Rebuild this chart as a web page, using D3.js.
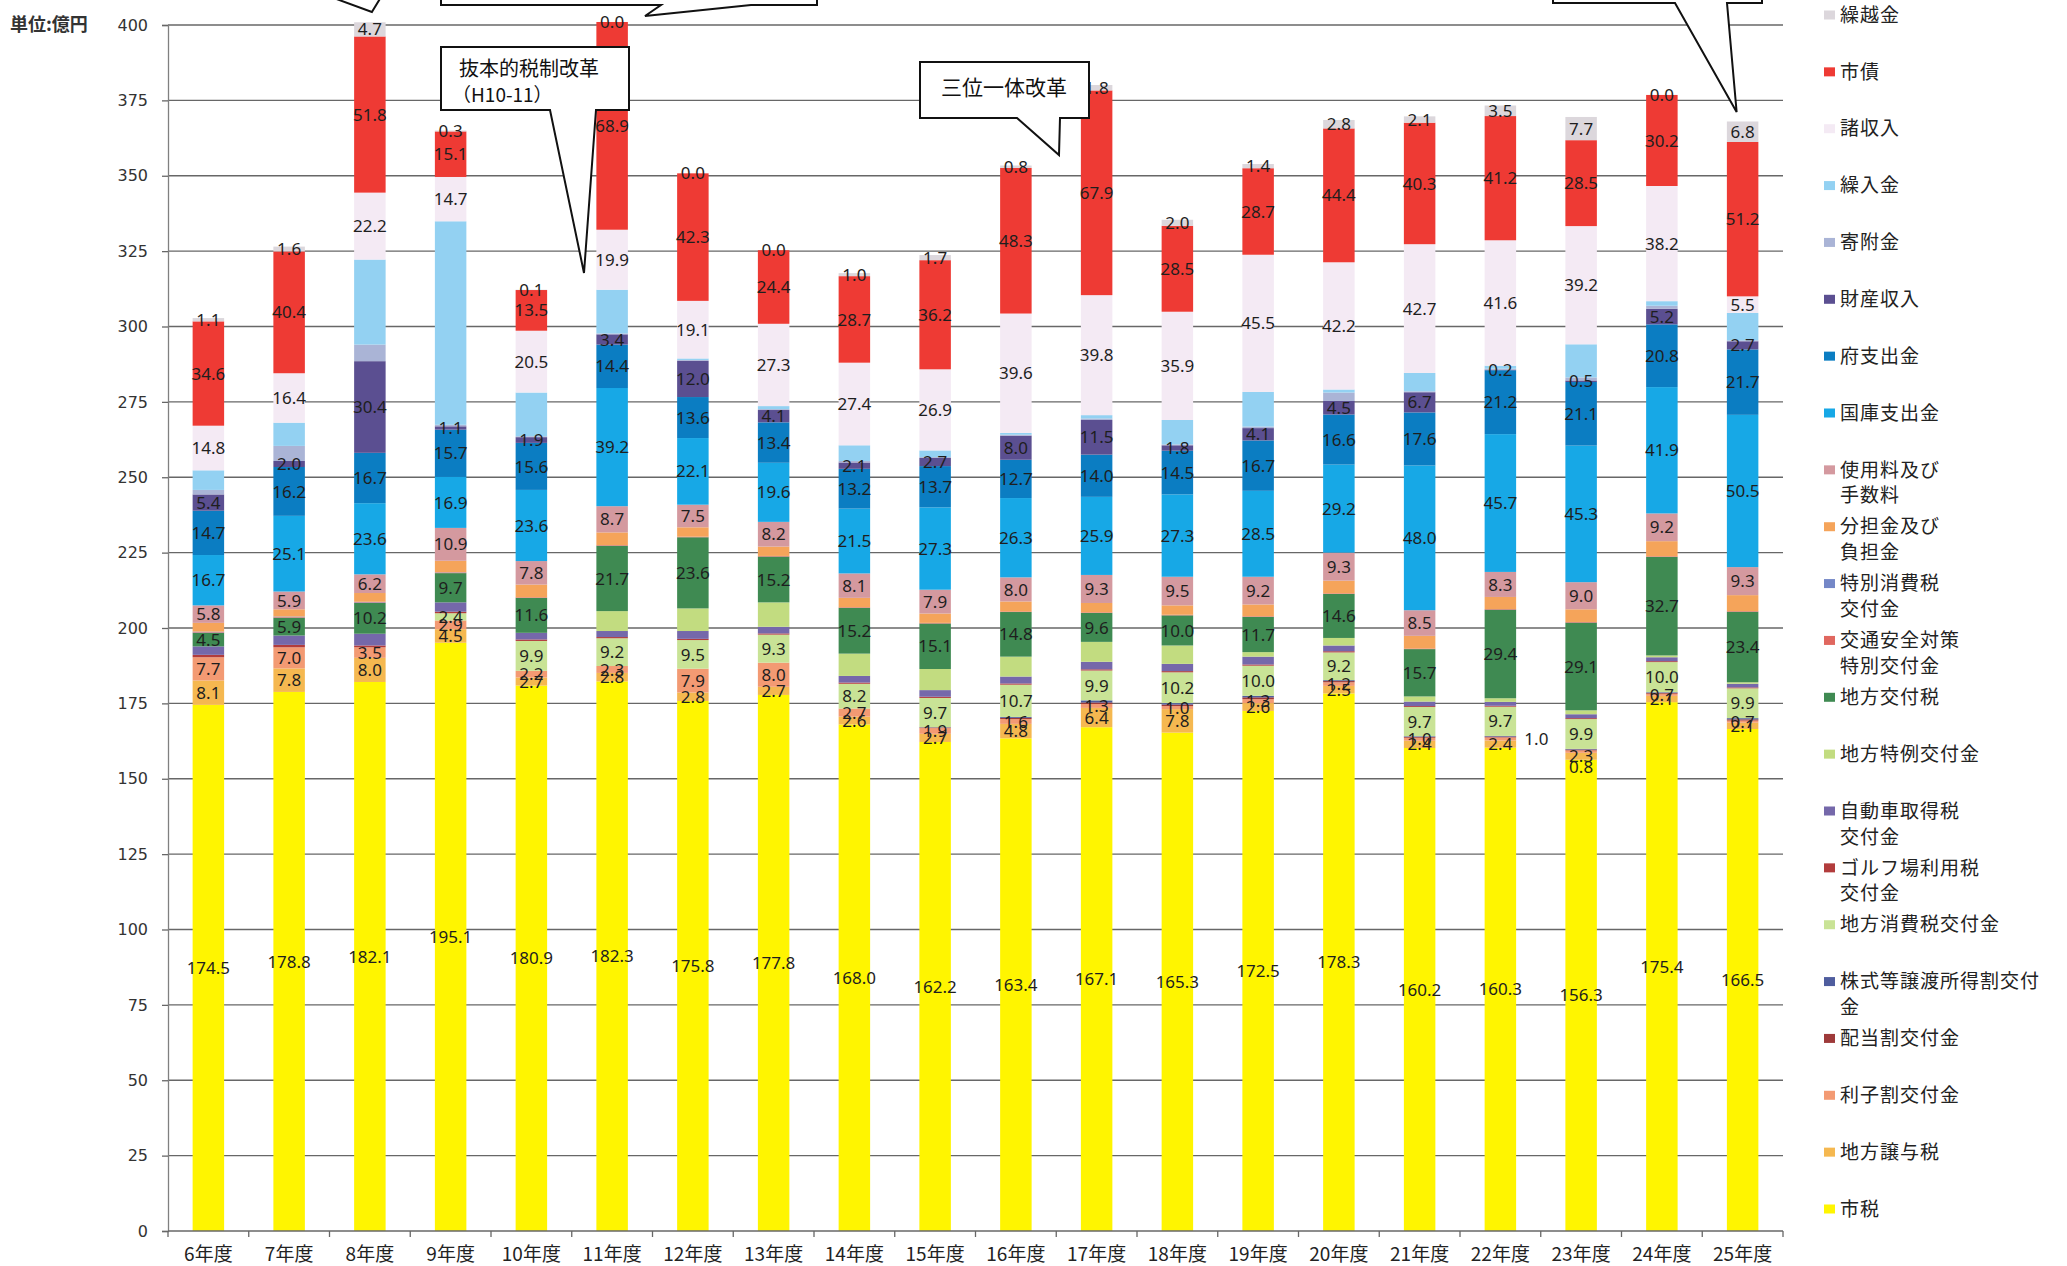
<!DOCTYPE html>
<html>
<head>
<meta charset="utf-8">
<script src="https://cdn.jsdelivr.net/npm/d3@7"></script>
<style>
  html, body { margin: 0; padding: 0; background: #fff; }
  svg { display: block; }
</style>
</head>
<body>
<svg id="chart" width="2067" height="1266"></svg>
<script>
// 歳入の推移（単位：億円）
const years = ["6年度","7年度","8年度","9年度","10年度","11年度","12年度","13年度","14年度","15年度",
               "16年度","17年度","18年度","19年度","20年度","21年度","22年度","23年度","24年度","25年度"];

const shizei     = [174.5,178.8,182.1,195.1,180.9,182.3,175.8,177.8,168.0,162.2,163.4,167.1,165.3,172.5,178.3,160.2,160.3,156.3,175.4,166.5];
const joyozei    = [8.1,7.8,8.0,4.5,2.7,2.8,2.8,2.7,2.6,2.7,4.8,6.4,7.8,2.6,2.5,2.4,2.4,2.3,2.1,2.1];
const rishiwari  = [7.7,7.0,3.5,2.9,2.2,2.3,7.9,8.0,2.7,1.9,1.6,1.3,1.0,1.3,1.2,1.0,1.0,0.8,0.7,0.7];
const haitowari  = [0,0,0,0,0,0,0,0,0,0.2,0.4,0.5,0.5,0.6,0.4,0.3,0.3,0.3,0.3,0.4];
const kabushiki  = [0,0,0,0,0,0,0,0,0,0.1,0.3,0.7,0.5,0.5,0.3,0.2,0.2,0.2,0.2,0.4];
const shohizei   = [0,0,0,2.4,9.9,9.2,9.5,9.3,8.2,9.7,10.7,9.9,10.2,10.0,9.2,9.7,9.7,9.9,10.0,9.9];
const golf       = [0.8,0.8,0.6,0.5,0.5,0.4,0.4,0.4,0.4,0.4,0.4,0.4,0.4,0.4,0.4,0.3,0.3,0.3,0.3,0.3];
const jidosha    = [2.8,3.1,3.9,3.1,2.2,2.0,2.6,2.2,2.2,2.2,2.3,2.5,2.4,2.6,1.9,1.5,1.3,1.3,1.3,1.2];
const tokurei    = [0,0,0,0,0,6.6,7.5,8.1,7.4,7.0,6.6,6.6,6.1,1.5,2.5,1.7,1.2,1.3,0.6,0.5];
const kofuzei    = [4.5,5.9,10.2,9.7,11.6,21.7,23.6,15.2,15.2,15.1,14.8,9.6,10.0,11.7,14.6,15.7,29.4,29.1,32.7,23.4];
const kotsu      = [0.2,0.2,0.2,0.2,0.2,0.2,0.2,0.2,0.2,0.2,0.2,0.2,0.2,0.2,0.2,0.2,0.2,0.2,0.2,0.2];
const tokushohi  = [0.2,0.2,0.2,0.1,0,0,0,0,0,0,0,0,0,0,0,0,0,0,0,0];
const buntan     = [2.9,2.4,2.9,3.8,4.2,4.2,3.1,3.1,3.1,3.1,3.3,3.1,3.1,3.9,4.2,4.2,4.0,4.2,5.0,5.3];
const shiyoryo   = [5.8,5.9,6.2,10.9,7.8,8.7,7.5,8.2,8.1,7.9,8.0,9.3,9.5,9.2,9.3,8.5,8.3,9.0,9.2,9.3];
const kokko      = [16.7,25.1,23.6,16.9,23.6,39.2,22.1,19.6,21.5,27.3,26.3,25.9,27.3,28.5,29.2,48.0,45.7,45.3,41.9,50.5];
const fu         = [14.7,16.2,16.7,15.7,15.6,14.4,13.6,13.4,13.2,13.7,12.7,14.0,14.5,16.7,16.6,17.6,21.2,21.1,20.8,21.7];
const zaisan     = [5.4,2.0,30.4,1.1,1.9,3.4,12.0,4.1,2.1,2.7,8.0,11.5,1.8,4.1,4.5,6.7,0.2,0.5,5.2,2.7];
const kifu       = [1.5,5.0,5.5,0.5,0.3,0.3,0.3,0.3,0.5,0.3,0.3,0.5,0.3,0.5,2.8,0.3,0.3,1.0,1.0,0.3];
const kurire     = [6.5,7.7,28.2,67.5,14.5,14.5,0.5,1.0,5.2,2.2,0.6,1.1,8.1,11.5,1.0,6.1,1.0,11.0,1.5,9.1];
const shoshunyu  = [14.8,16.4,22.2,14.7,20.5,19.9,19.1,27.3,27.4,26.9,39.6,39.8,35.9,45.5,42.2,42.7,41.6,39.2,38.2,5.5];
const shisai     = [34.6,40.4,51.8,15.1,13.5,68.9,42.3,24.4,28.7,36.2,48.3,67.9,28.5,28.7,44.4,40.3,41.2,28.5,30.2,51.2];
const kurikoshi  = [1.1,1.6,4.7,0.3,0.1,0.0,0.0,0.0,1.0,1.7,0.8,1.8,2.0,1.4,2.8,2.1,3.5,7.7,0.0,6.8];

// 積み上げ順（下から上）
const seriesNames = ["市税","地方譲与税","利子割交付金","配当割交付金","株式等譲渡所得割交付金","地方消費税交付金",
  "ゴルフ場利用税交付金","自動車取得税交付金","地方特例交付金","地方交付税","交通安全対策特別交付金","特別消費税交付金",
  "分担金及び負担金","使用料及び手数料","国庫支出金","府支出金","財産収入","寄附金","繰入金","諸収入","市債","繰越金"];
const seriesValues = [shizei,joyozei,rishiwari,haitowari,kabushiki,shohizei,golf,jidosha,tokurei,kofuzei,kotsu,tokushohi,
  buntan,shiyoryo,kokko,fu,zaisan,kifu,kurire,shoshunyu,shisai,kurikoshi];
const seriesColors = ["#fff500","#f5b850","#f39a73","#9e3a3a","#4f5d9e","#c9e396",
  "#b23c3c","#7568aa","#c2dc80","#3f8a52","#e0675f","#7487c7",
  "#f5a45a","#d4999f","#17a8e6","#0b7dc2","#5b4f91","#aab4d6","#93d1f2","#f4eaf4","#ee3a34","#dcd7dc"];

// 凡例の表示文字（改行位置）
const legendText = {
  "使用料及び手数料": ["使用料及び","手数料"],
  "分担金及び負担金": ["分担金及び","負担金"],
  "特別消費税交付金": ["特別消費税","交付金"],
  "交通安全対策特別交付金": ["交通安全対策","特別交付金"],
  "自動車取得税交付金": ["自動車取得税","交付金"],
  "ゴルフ場利用税交付金": ["ゴルフ場利用税","交付金"],
  "株式等譲渡所得割交付金": ["株式等譲渡所得割交付","金"]
};

// 数値ラベルを表示する項目
const labeledSeries = ["市税","地方譲与税","利子割交付金","地方消費税交付金","地方交付税","使用料及び手数料",
  "国庫支出金","府支出金","財産収入","諸収入","市債","繰越金"];
// 位置をずらしたラベル
const labelShifts = [
  {year: "22年度", series: "利子割交付金", dx: 36, dy: 0},
  {year: "23年度", series: "利子割交付金", dx: 0, dy: 15}
];

const yTicks = [0,25,50,75,100,125,150,175,200,225,250,275,300,325,350,375,400];

const svg = d3.select("#chart");
const x = d3.scaleBand().domain(years).range([168, 1783]).paddingInner(0.61).paddingOuter(0.305);
const y = d3.scaleLinear().domain([0, 400]).range([1231, 25]);
const color = d3.scaleOrdinal(seriesNames, seriesColors);

const rows = years.map((yr, i) => {
  const r = {year: yr};
  seriesNames.forEach((s, k) => { r[s] = seriesValues[k][i]; });
  return r;
});
const stacked = d3.stack().keys(seriesNames)(rows);

const FONT = "'Noto Sans CJK JP','Noto Sans',sans-serif";

// 目盛線
svg.append("g").selectAll("line").data(yTicks.filter(t => t > 0)).join("line")
  .attr("x1", x.range()[0]).attr("x2", x.range()[1])
  .attr("y1", d => y(d)).attr("y2", d => y(d))
  .attr("stroke", "#676767").attr("stroke-width", 1.3);

// 縦軸
const yAxis = svg.append("g").attr("transform", `translate(${x.range()[0]},0)`)
  .call(d3.axisLeft(y).tickValues(yTicks).tickSize(6).tickPadding(14));
yAxis.select(".domain").attr("stroke", "#808080").attr("stroke-width", 1.3);
yAxis.selectAll(".tick line").attr("stroke", "#676767").attr("stroke-width", 1.3);
yAxis.selectAll(".tick text").attr("font-family", "'DejaVu Sans',sans-serif").attr("font-size", 16).attr("fill", "#333");

svg.append("text").attr("x", 10).attr("y", 25).attr("dy", "0.35em")
  .attr("font-family", FONT).attr("font-size", 18).attr("font-weight", 700).attr("fill", "#333")
  .text("単位:億円");

// 積み上げ棒
const layers = svg.append("g").selectAll("g").data(stacked).join("g")
  .attr("fill", d => color(d.key));
layers.selectAll("rect").data(d => d).join("rect")
  .attr("x", d => x(d.data.year))
  .attr("width", x.bandwidth())
  .attr("y", d => y(d[1]))
  .attr("height", d => Math.max(0, y(d[0]) - y(d[1])));

// 横軸
const x0 = x.range()[0], x1 = x.range()[1];
svg.append("line").attr("x1", x0).attr("x2", x1).attr("y1", y(0)).attr("y2", y(0))
  .attr("stroke", "#676767").attr("stroke-width", 1.3);
const boundaries = years.map(yr => x(yr) - (x.step() - x.bandwidth()) / 2).concat([x1]);
svg.append("g").selectAll("line").data(boundaries).join("line")
  .attr("x1", d => d).attr("x2", d => d).attr("y1", y(0)).attr("y2", y(0) + 6)
  .attr("stroke", "#676767").attr("stroke-width", 1.3);
svg.append("g").selectAll("text").data(years).join("text")
  .attr("x", d => x(d) + x.bandwidth() / 2).attr("y", y(0) + 23).attr("dy", "0.35em")
  .attr("text-anchor", "middle").attr("font-family", FONT).attr("font-size", 19).attr("fill", "#222")
  .text(d => d);

// 数値ラベル
const fmt = d3.format(".1f");
const labelData = [];
stacked.forEach(layer => {
  if (!labeledSeries.includes(layer.key)) return;
  layer.forEach(seg => {
    const v = seg[1] - seg[0];
    if (v <= 0 && layer.key !== "繰越金") return;
    const shift = labelShifts.find(s => s.year === seg.data.year && s.series === layer.key);
    labelData.push({
      x: x(seg.data.year) + x.bandwidth() / 2 + (shift ? shift.dx : 0),
      y: (y(seg[0]) + y(seg[1])) / 2 + (shift ? shift.dy : 0),
      text: fmt(seg.data[layer.key])
    });
  });
});
svg.append("g").selectAll("text").data(labelData).join("text")
  .attr("x", d => d.x).attr("y", d => d.y).attr("dy", "0.36em")
  .attr("text-anchor", "middle").attr("font-family", "'Noto Sans',sans-serif").attr("font-size", 17)
  .attr("fill", "#1e1e1e").text(d => d.text);

// 吹き出し
const callouts = svg.append("g").attr("fill", "#fff").attr("stroke", "#111").attr("stroke-width", 2)
  .attr("stroke-linejoin", "miter");
const cx8 = x("8年度") + x.bandwidth() / 2;
callouts.append("path").attr("d", `M${cx8 - 47},-6 L${cx8 + 2},12 L${cx8 + 13},-6`);
callouts.append("path").attr("d", "M441,-10 L441,5 L661,5 L645,16 L751,5 L817,5 L817,-10");
callouts.append("path").attr("d", "M441,47 L629,47 L629,110 L596,110 L584,273 L550,110 L441,110 Z");
callouts.append("path").attr("d", "M920,62 L1089,62 L1089,118 L1060,118 L1059,155 L1017,118 L920,118 Z");
const cx25 = x("25年度") + x.bandwidth() / 2;
callouts.append("path").attr("d", `M1553,-10 L1553,3 L1675,3 L${cx25 - 6},112 L1727,3 L1762,3 L1762,-10`);

const calloutText = svg.append("g").attr("font-family", FONT).attr("fill", "#111");
calloutText.append("text").attr("x", 459).attr("y", 69).attr("dy", "0.35em").attr("font-size", 20).text("抜本的税制改革");
calloutText.append("text").attr("x", 452).attr("y", 95).attr("dy", "0.35em").attr("font-size", 19).text("（H10-11）");
calloutText.append("text").attr("x", 1004).attr("y", 88).attr("dy", "0.35em").attr("text-anchor", "middle")
  .attr("font-size", 21).text("三位一体改革");

// 凡例（上から）
const legendOrder = seriesNames.slice().reverse();
const ly = d3.scalePoint().domain(legendOrder).range([15, 1209]);
const legend = svg.append("g");
const items = legend.selectAll("g").data(legendOrder).join("g")
  .attr("transform", d => `translate(1824,${ly(d)})`);
items.append("rect").attr("x", 0).attr("y", -4.5).attr("width", 11).attr("height", 9)
  .attr("fill", d => color(d));
items.each(function(d) {
  const lines = legendText[d] || [d];
  const t = d3.select(this).append("text").attr("font-family", FONT).attr("font-size", 19)
    .attr("fill", "#222").attr("letter-spacing", 1);
  lines.forEach((ln, i) => {
    t.append("tspan").attr("x", 16).attr("y", i * 26).attr("dy", "0.35em").text(ln);
  });
});
</script>
</body>
</html>
